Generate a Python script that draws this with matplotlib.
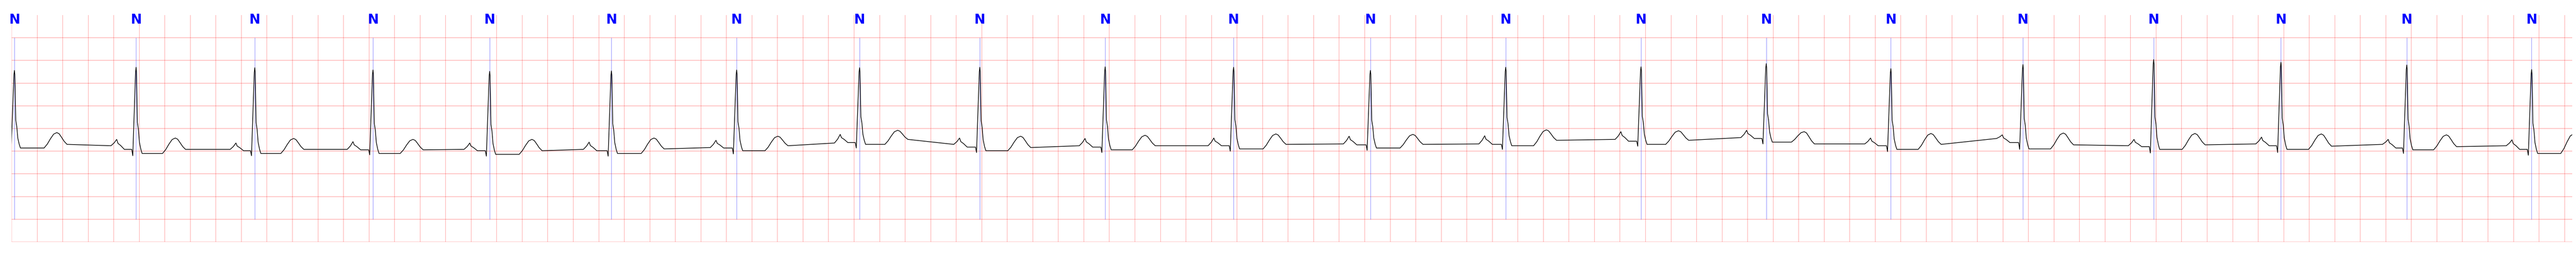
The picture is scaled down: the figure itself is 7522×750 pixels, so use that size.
import matplotlib
matplotlib.use("Agg")
import matplotlib.pyplot as plt
import numpy as np

# beat annotations (time of R peak, s) - all labelled 'N'
beat_t = [0.022, 0.975, 1.905, 2.831, 3.745, 4.699, 5.680, 6.643, 7.585, 8.567,
          9.573, 10.645, 11.705, 12.765, 13.746, 14.722, 15.757, 16.781, 17.778,
          18.764, 19.742]
beat_lbl = ['N'] * len(beat_t)

# per-beat levels (arbitrary units, 0.5 per grid square)
r_amp = [1.78, 1.85, 1.84, 1.79, 1.76, 1.77, 1.79, 1.84, 1.85, 1.86, 1.85,
         1.78, 1.85, 1.86, 1.93, 1.82, 1.91, 2.02, 1.96, 1.90, 1.80]
q_amp = [0.04, -0.10, -0.10, -0.08, -0.11, -0.11, -0.06, 0.07, -0.03, -0.03, 0.00,
         0.02, 0.04, 0.11, 0.16, -0.01, 0.04, -0.04, -0.03, -0.05, -0.09]
st_lvl = [0.07, -0.05, -0.05, -0.05, -0.07, -0.05, 0.01, 0.15, 0.01, 0.03, 0.05,
          0.07, 0.12, 0.15, 0.20, 0.04, 0.05, 0.04, 0.04, 0.03, -0.05]
t_time = [0.354, 1.282, 2.209, 3.144, 4.076, 5.032, 6.002, 6.941, 7.904, 8.879,
          9.904, 10.977, 12.023, 13.058, 14.043, 15.036, 16.073, 17.104, 18.094,
          19.074, 20.07]
t_amp = [0.41, 0.29, 0.28, 0.26, 0.26, 0.29, 0.33, 0.46, 0.33, 0.35, 0.38,
         0.37, 0.47, 0.45, 0.43, 0.39, 0.40, 0.39, 0.38, 0.36, 0.38]
after_t = [0.15, 0.04, 0.04, 0.03, 0.01, 0.05, 0.12, 0.26, 0.08, 0.12, 0.15,
           0.15, 0.24, 0.24, 0.16, 0.15, 0.14, 0.14, 0.11, 0.10, 0.10]
p_time = [-0.13, 0.823, 1.757, 2.674, 3.589, 4.524, 5.518, 6.491, 7.426, 8.409,
          9.418, 10.478, 11.540, 12.607, 13.592, 14.563, 15.595, 16.627, 17.626,
          18.618, 19.588]
p_amp = [0.20, 0.26, 0.18, 0.21, 0.18, 0.20, 0.24, 0.37, 0.29, 0.28, 0.29,
         0.33, 0.34, 0.43, 0.46, 0.29, 0.36, 0.26, 0.31, 0.26, 0.25]
pre_p = [0.06, 0.12, 0.04, 0.04, 0.04, 0.04, 0.08, 0.18, 0.15, 0.12, 0.12,
         0.16, 0.16, 0.26, 0.30, 0.16, 0.28, 0.12, 0.16, 0.15, 0.12]
pr_lvl = [0.06, 0.04, 0.01, 0.03, 0.01, 0.01, 0.07, 0.19, 0.09, 0.09, 0.12,
          0.14, 0.15, 0.22, 0.28, 0.12, 0.19, 0.10, 0.12, 0.07, 0.04]

# wave shapes read from one beat: (offset s, fraction of wave height)
p_rise = [(-0.045, 0.0), (-0.02, 0.45), (0.0, 1.0)]
p_fall = [(0.01, 0.6), (0.03, 0.4), (0.06, 0.0)]
qrs_up = [(-0.034, None), (-0.026, 0.0), (-0.004, 0.95), (0.0, 1.0)]
qrs_dn = [(0.003, 0.95), (0.010, 0.36), (0.018, 0.28), (0.026, 0.13),
          (0.037, 0.05), (0.047, 0.0)]
t_rise = [(-0.10, 0.0), (-0.075, 0.25), (-0.05, 0.6), (-0.025, 0.9), (0.0, 1.0)]
t_fall = [(0.018, 0.9), (0.037, 0.6), (0.058, 0.25), (0.08, 0.0)]

xs, ys = [], []
for i, r in enumerate(beat_t):
    for dt, f in p_rise:
        xs.append(p_time[i] + dt)
        ys.append(pre_p[i] + f * (p_amp[i] - pre_p[i]))
    for dt, f in p_fall:
        xs.append(p_time[i] + dt)
        ys.append(pr_lvl[i] + f * (p_amp[i] - pr_lvl[i]))
    for dt, f in qrs_up:
        xs.append(r + dt)
        ys.append(pr_lvl[i] if f is None else q_amp[i] + f * (r_amp[i] - q_amp[i]))
    for dt, f in qrs_dn:
        xs.append(r + dt)
        ys.append(st_lvl[i] + f * (r_amp[i] - st_lvl[i]))
    for dt, f in t_rise:
        xs.append(t_time[i] + dt)
        ys.append(st_lvl[i] + f * (t_amp[i] - st_lvl[i]))
    for dt, f in t_fall:
        xs.append(t_time[i] + dt)
        ys.append(after_t[i] + f * (t_amp[i] - after_t[i]))

W, H = 7522, 750
fig = plt.figure(figsize=(W / 100, H / 100), dpi=100)
ax = fig.add_axes([34 / W, 44 / H, 7477 / W, 662 / H])

# ecg paper grid: 0.2 s x 0.5 units
ax.set_xticks(np.arange(0, 20.01, 0.2))
ax.set_yticks(np.arange(-2.0, 2.51, 0.5))
ax.grid(True, axis='x', color='red', alpha=0.28, linewidth=1.3)
ax.grid(True, axis='y', color='red', alpha=0.28, linewidth=1.5)
ax.tick_params(length=0, labelbottom=False, labelleft=False)
for s in ax.spines.values():
    s.set_visible(False)
ax.set_axisbelow(True)

ax.plot(xs, ys, color='black', linewidth=1.4, zorder=3)

ax.vlines(beat_t, -1.5, 2.5, color='blue', linewidth=0.8, alpha=0.55, zorder=2)
for t, lbl in zip(beat_t, beat_lbl):
    ax.text(t, 2.894, lbl, color='blue', fontweight='bold', fontsize=28,
            family=['Liberation Sans Narrow', 'DejaVu Sans'],
            ha='center', va='center', zorder=4)

ax.set_xlim(0, 20.06)
ax.set_ylim(-2.0, 3.0)

fig.savefig('out.png', dpi=100)
